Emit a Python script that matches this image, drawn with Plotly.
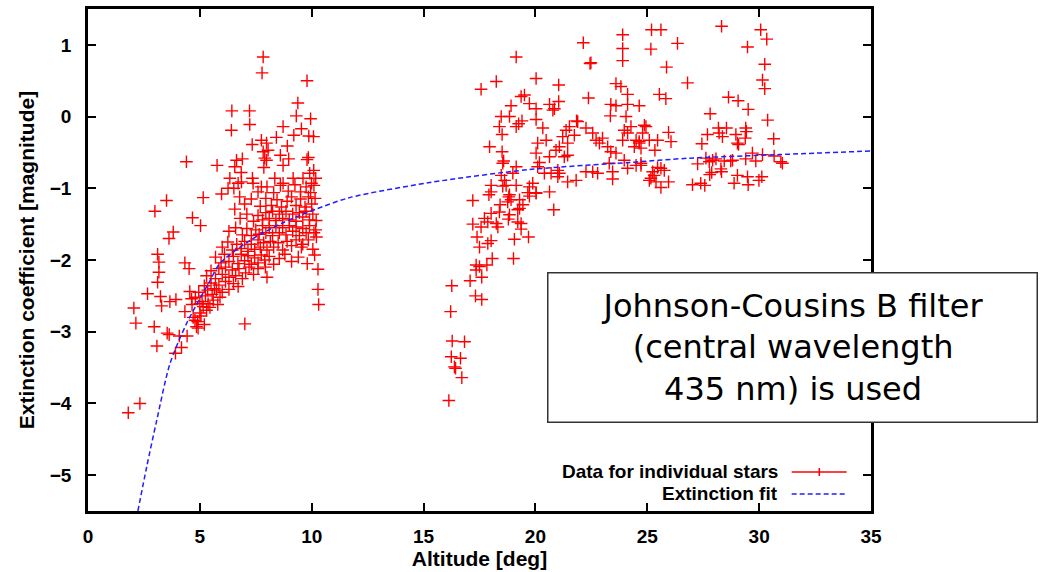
import plotly.graph_objects as go

# ---- Data: stars observed at low altitude (left group) ----
alt_low = [
    7.83, 7.78, 9.79, 9.38, 6.43, 7.22, 7.23, 6.41, 9.31, 9.95, 8.72, 9.54, 9.87, 10.08, 9.2, 8.42,
    7.75, 7.98, 8.05, 7.83, 7.9, 7.98, 7.86, 7.34, 8.91, 8.6, 8.97, 8.72, 9.85, 9.79, 6.64, 6.9,
    6.56, 4.4, 5.77, 6.85, 6.71, 6.34, 6.26, 6.52, 6.86, 7.35, 7.38, 7.75, 5.97, 5.15, 3.51, 2.99,
    4.67, 6.56, 6.78, 8.35, 8.72, 9.17, 9.61, 9.91, 10.09, 10.18, 9.99,
    5.03, 3.81, 3.62, 3.11, 3.17, 4.33, 4.52, 3.17, 3.11, 2.66, 3.24, 3.66, 3.93, 3.29, 2.05, 2.14,
    2.96, 3.54, 3.63, 4.08, 4.43, 3.08, 4.18, 3.91, 2.32, 1.8, 7.01, 10.28, 10.28, 10.31, 10.13,
    10.21, 10.18, 9.54, 6.71, 7.93,
    4.33, 4.63, 4.55, 4.78, 4.85, 4.92, 5.0, 5.15, 5.37, 5.6, 5.0, 5.74,
    4.7, 4.9, 5.05, 5.2, 5.3,
    4.65, 4.8, 5.1, 5.25, 5.45, 5.55, 5.8, 5.9,
    4.95, 5.2, 5.35, 5.5, 5.65, 5.85, 6.0, 6.15, 6.3, 6.5,
    5.3, 5.5, 5.7, 5.85, 6.0, 6.15, 6.3, 6.45, 6.6, 6.75, 6.9, 7.05, 7.2, 7.4, 7.6, 8.0,
    5.7, 5.95, 6.1, 6.3, 6.5, 6.7, 6.85, 7.0, 7.15, 7.3, 7.45, 7.6, 7.75, 7.9, 8.1, 8.3, 8.55, 8.8,
    9.1, 9.4, 9.8,
    6.0, 6.25, 6.45, 6.65, 6.85, 7.0, 7.15, 7.3, 7.45, 7.6, 7.7, 7.85, 8.0, 8.15, 8.3, 8.5, 8.7,
    8.9, 9.1, 9.3, 9.6, 9.85, 10.05,
    6.3, 6.6, 6.9, 7.1, 7.3, 7.5, 7.65, 7.8, 7.95, 8.1, 8.25, 8.4, 8.55, 8.7, 8.85, 9.0, 9.15,
    9.3, 9.45, 9.6, 9.75, 9.9, 10.1,
    6.8, 7.1, 7.4, 7.6, 7.8, 7.95, 8.1, 8.25, 8.4, 8.55, 8.7, 8.85, 9.0, 9.15, 9.3, 9.45, 9.6,
    9.75, 9.9, 10.05, 10.2,
    7.0, 7.3, 7.7, 7.95, 8.2, 8.45, 8.65, 8.9, 9.1, 9.3, 9.5, 9.7, 9.85, 10.0, 10.15,
    7.6, 8.0, 8.3, 8.6, 8.95, 9.25, 9.5, 9.75, 9.95, 10.1,
]
ext_low = [
    0.83, 0.61, 0.50, 0.19, 0.08, 0.08, -0.11, -0.19, 0.01, -0.03, -0.14, -0.17, -0.27, -0.28, -0.26, -0.29,
    -0.33, -0.37, -0.47, -0.49, -0.58, -0.61, -0.71, -0.39, -0.41, -0.54, -0.59, -0.68, -0.57, -0.6, -0.61, -0.59,
    -0.7, -0.63, -0.68, -0.78, -0.93, -0.86, -1.0, -1.0, -0.91, -0.86, -0.93, -0.98, -1.08, -1.13, -1.17, -1.32,
    -1.41, -1.29, -1.12, -0.86, -0.93, -0.86, -0.86, -0.79, -0.75, -0.86, -0.93,
    -1.52, -1.61, -1.70, -1.92, -2.03, -2.04, -2.12, -2.17, -2.31, -2.47, -2.51, -2.58, -2.55, -2.64, -2.67, -2.88,
    -2.93, -3.02, -3.04, -3.06, -3.06, -3.2, -3.22, -3.30, -4.0, -4.13, -2.89, -2.13, -2.41, -2.62, -1.93,
    -1.68, -1.58, -1.82, -2.37, -2.10,
    -2.72, -2.54, -2.44, -2.84, -2.93, -2.95, -2.74, -2.65, -2.61, -2.56, -2.61, -2.42,
    -2.80, -2.86, -2.78, -2.90, -2.70,
    -2.62, -2.52, -2.58, -2.50, -2.66, -2.48, -2.62, -2.52,
    -2.45, -2.36, -2.42, -2.32, -2.40, -2.35, -2.45, -2.30, -2.41, -2.33,
    -2.22, -2.15, -2.26, -2.12, -2.20, -2.10, -2.24, -2.14, -2.22, -2.12, -2.26, -2.18, -2.10, -2.20, -2.12, -2.24,
    -1.96, -2.04, -1.92, -2.02, -1.95, -2.05, -1.92, -2.01, -1.94, -2.06, -1.97, -2.04, -1.93, -2.0, -1.95, -2.06, -1.98, -1.92,
    -2.02, -1.96, -2.05,
    -1.82, -1.75, -1.86, -1.78, -1.84, -1.74, -1.88, -1.78, -1.85, -1.72, -1.82, -1.76, -1.86, -1.74, -1.82, -1.76, -1.86,
    -1.74, -1.80, -1.72, -1.78, -1.72, -1.85,
    -1.60, -1.55, -1.65, -1.56, -1.66, -1.58, -1.64, -1.52, -1.62, -1.55, -1.66, -1.52, -1.62, -1.55, -1.65, -1.52, -1.60,
    -1.54, -1.66, -1.56, -1.62, -1.52, -1.62,
    -1.42, -1.36, -1.46, -1.38, -1.44, -1.34, -1.42, -1.32, -1.45, -1.36, -1.42, -1.32, -1.44, -1.36, -1.46, -1.34, -1.40,
    -1.32, -1.44, -1.36, -1.45,
    -1.22, -1.15, -1.25, -1.14, -1.24, -1.16, -1.26, -1.18, -1.12, -1.24, -1.15, -1.26, -1.12, -1.22, -1.14,
    -1.05, -0.98, -1.06, -0.96, -1.04, -0.95, -1.05, -0.98, -1.06, -0.96,
]

# ---- Data: stars observed at higher altitude (right group) ----
alt_high = [
    16.13, 16.71, 16.38, 16.43, 16.24, 16.65, 16.28, 16.83, 16.21, 16.26, 17.32, 17.6, 17.08, 17.6,
    17.35, 17.35, 17.5, 17.83, 18.07, 19.02, 17.5, 17.87, 18.02, 17.39, 19.06, 19.69, 17.2, 17.57,
    17.72, 17.87, 18.02, 18.25, 18.32, 18.39, 18.42, 17.2, 17.92, 18.02, 18.81, 18.76, 19.29, 19.29,
    19.44, 19.21, 18.84, 18.79, 19.21, 19.36, 19.36, 19.66, 20.03, 19.73, 20.63, 20.82,
    18.02, 18.54, 18.84, 18.91, 18.62, 18.69, 19.14, 18.47, 18.99, 19.14, 18.54, 18.58, 17.95, 18.51,
    19.73, 19.88, 20.03, 20.1, 20.18, 20.03, 20.1, 20.48, 20.63, 20.7, 20.4, 21.0, 21.07, 21.0,
    21.44, 21.82, 20.92, 21.07, 21.22, 21.37, 21.52, 21.44, 21.44, 21.29, 21.74, 21.89, 22.26, 22.56,
    22.71, 22.86, 23.0, 23.23, 23.37, 23.6, 23.3, 22.26, 22.56, 22.78, 23.45, 23.45, 23.97, 24.27,
    24.12, 23.9, 23.97, 24.12, 24.5, 24.72, 24.5, 24.64, 24.42,
    17.57, 18.25, 19.14, 20.03, 21.04, 21.04, 20.63, 20.78, 20.85, 19.36, 19.51, 19.73, 20.03, 18.91,
    18.47, 18.84, 18.39, 18.51, 19.14, 19.25, 19.4, 20.03, 20.33, 22.14, 22.44, 22.48, 23.9, 23.9,
    23.9, 22.37, 23.6, 23.82, 24.12, 23.37, 23.6, 24.12, 24.64, 23.35, 24.05, 21.84,
    25.19, 25.61, 25.16, 26.35, 25.86, 26.8, 25.54, 25.83, 28.32, 30.07, 30.34, 29.48, 30.25, 30.15,
    30.25, 28.63, 29.06, 27.81, 29.51, 30.38, 24.87, 24.94, 24.79, 24.64, 24.72, 25.09, 25.46, 25.34,
    25.95, 26.06, 28.18, 28.21, 28.36, 28.54, 27.69, 27.44, 28.96, 29.08, 29.03, 29.4, 29.43, 29.38,
    30.65, 24.72, 27.62, 27.77, 27.92, 28.07, 28.44, 28.73, 28.81, 27.25, 29.4, 29.85, 29.7, 30.15,
    30.67, 30.97, 31.04, 25.24, 25.46, 25.61, 25.76, 25.16, 25.31, 25.09, 25.39, 25.61, 25.95, 27.02,
    27.39, 27.57, 27.79, 27.88, 28.29, 28.32, 29.03, 28.88, 29.48, 29.51, 29.99, 30.12,
]
ext_high = [
    -3.96, -3.64, -3.49, -3.51, -3.35, -3.37, -3.13, -3.14, -2.72, -2.36, -2.50, -2.55, -2.29, -2.24,
    -2.14, -2.07, -2.09, -2.07, -1.98, -1.98, -1.82, -1.77, -1.73, -1.68, -1.71, -1.68, -1.50, -1.54,
    -1.42, -1.47, -1.35, -1.49, -1.54, -1.33, -1.23, -1.17, -1.09, -1.05, -1.12, -1.19, -1.16, -1.28,
    -1.23, -1.30, -1.37, -1.43, -1.47, -1.49, -1.57, -1.06, -1.07, -1.11, -1.05, -1.30,
    -0.96, -0.97, -1.09, -1.16, -0.89, -0.96, -0.96, -0.82, -0.79, -0.70, -0.65, -0.62, -0.42, -0.49,
    -0.98, -0.93, -1.06, -0.70, -0.64, -0.51, -0.37, -0.33, -0.56, -0.79, -0.79, -0.75, -0.79, -0.84,
    -0.91, -0.89, -0.47, -0.42, -0.28, -0.19, -0.14, -0.37, -0.54, -0.56, -0.26, -0.07, -0.16, -0.23,
    -0.33, -0.37, -0.30, -0.42, -0.49, -0.51, -0.65, -0.77, -0.77, -0.79, -0.77, -0.87, -0.19, -0.14,
    -0.23, -0.33, -0.61, -0.72, -0.68, -0.65, -0.33, -0.37, -0.42,
    0.38, 0.49, 0.83, 0.53, 0.44, 0.21, 0.17, 0.09, 0.11, 0.28, 0.30, 0.18, 0.11, 0.15,
    0.0, 0.0, -0.14, -0.25, -0.14, -0.10, -0.06, -0.04, -0.16, 1.03, 0.74, 0.75, 1.14, 0.95,
    0.78, 0.26, 0.46, 0.42, 0.31, 0.17, 0.15, 0.17, 0.15, 0.01, 0.0, -0.06,
    1.21, 1.21, 0.94, 1.02, 0.69, 0.47, 0.31, 0.25, 1.26, 1.21, 1.08, 0.97, 0.73, 0.51,
    0.39, 0.27, 0.22, 0.04, 0.10, -0.05, -0.12, -0.14, -0.23, -0.35, -0.44, -0.33, -0.33, -0.47,
    -0.22, -0.35, -0.16, -0.23, -0.28, -0.16, -0.25, -0.38, -0.25, -0.39, -0.37, -0.16, -0.21, -0.30,
    -0.31, -0.68, -0.58, -0.63, -0.61, -0.59, -0.62, -0.62, -0.61, -0.66, -0.59, -0.62, -0.51, -0.53,
    -0.55, -0.63, -0.65, -0.77, -0.71, -0.72, -0.75, -0.86, -0.82, -0.89, -0.91, -0.99, -0.91, -0.95,
    -0.93, -0.96, -0.81, -0.78, -0.73, -0.77, -0.82, -0.93, -0.84, -0.95, -0.89, -0.84,
]

# ---- Extinction fit curve ----
fit_alt = [2.23, 2.62, 3.07, 3.66, 4.4, 5.45, 5.89, 7.23, 8.72, 10.2, 11.7, 15.27, 19.7, 24.2, 26.9, 30.9, 35.0]
fit_ext = [-5.5, -4.89, -4.24, -3.45, -2.89, -2.29, -2.05, -1.73, -1.48, -1.29, -1.13, -0.92, -0.74, -0.64, -0.58, -0.53, -0.48]

x_ticks = [0, 5, 10, 15, 20, 25, 30, 35]
y_ticks = [-5, -4, -3, -2, -1, 0, 1]

stars_alt = alt_low + alt_high
stars_ext = ext_low + ext_high

FAM = "Liberation Sans, Arial, sans-serif"
TICK_FONT = dict(family=FAM, size=19, color="black", weight="bold")
TITLE_FONT = dict(family=FAM, size=21, color="black", weight="bold")
KEY_FONT = dict(family=FAM, size=19, color="black", weight="bold")
RED = "#ff0000"
BLUE = "#1f1fff"

fig = go.Figure()
fig.add_trace(go.Scatter(
    x=stars_alt, y=stars_ext, mode="markers",
    marker=dict(symbol="cross-thin", size=9, color=RED, line=dict(color=RED, width=1.4)),
    showlegend=False, cliponaxis=True,
))
fig.add_trace(go.Scatter(
    x=fit_alt, y=fit_ext, mode="lines",
    line=dict(color=BLUE, width=1.5, dash="5px,3px", shape="spline", smoothing=0.8),
    showlegend=False,
))

axis_common = dict(
    showgrid=False, zeroline=False, showline=True, linecolor="black", linewidth=2.5,
    mirror="ticks", ticks="inside", ticklen=8, tickwidth=1.5, tickcolor="black",
    tickfont=TICK_FONT,
)

fig.update_layout(
    width=1043, height=572,
    margin=dict(l=88, r=172, t=9, b=61, autoexpand=False),
    paper_bgcolor="white", plot_bgcolor="white",
    xaxis=dict(range=[0, 35], tickvals=x_ticks, ticklabelstandoff=6,
               title=dict(text="Altitude [deg]", font=TITLE_FONT, standoff=4), **axis_common),
    yaxis=dict(range=[-5.5, 1.5], tickvals=y_ticks, ticklabelstandoff=10,
               title=dict(text="Extinction coefficient [magnitude]", font=TITLE_FONT, standoff=10),
               **axis_common),
)

# manual gnuplot-style key (text on left, sample on right)
ROW1, ROW2 = 0.0777, 0.0339
fig.add_annotation(xref="paper", yref="paper", x=0.8838, y=ROW1, xanchor="right", yanchor="middle",
                   text="Data for individual stars", showarrow=False, font=KEY_FONT)
fig.add_annotation(xref="paper", yref="paper", x=0.8838, y=ROW2, xanchor="right", yanchor="middle",
                   text="Extinction fit", showarrow=False, font=KEY_FONT)
fig.add_shape(type="line", xref="paper", yref="paper", x0=0.8987, x1=0.9689, y0=ROW1, y1=ROW1,
              line=dict(color=RED, width=1.5))
fig.add_shape(type="line", xref="paper", yref="paper", x0=0.934, x1=0.934, y0=ROW1 - 0.008, y1=ROW1 + 0.008,
              line=dict(color=RED, width=1.5))
fig.add_shape(type="line", xref="paper", yref="paper", x0=0.8987, x1=0.9689, y0=ROW2, y1=ROW2,
              line=dict(color=BLUE, width=1.5, dash="5px,3px"))

# text box
fig.add_annotation(xref="paper", yref="paper", x=0.8997, y=0.3257, xanchor="center", yanchor="middle",
                   text="Johnson-Cousins B filter<br>(central wavelength<br>435 nm) is used",
                   showarrow=False, align="center", valign="middle",
                   width=488, height=148, borderpad=0,
                   bgcolor="white", bordercolor="#333333", borderwidth=1.5,
                   font=dict(family="DejaVu Sans", size=32, color="black"))

fig.write_html("out.html")
